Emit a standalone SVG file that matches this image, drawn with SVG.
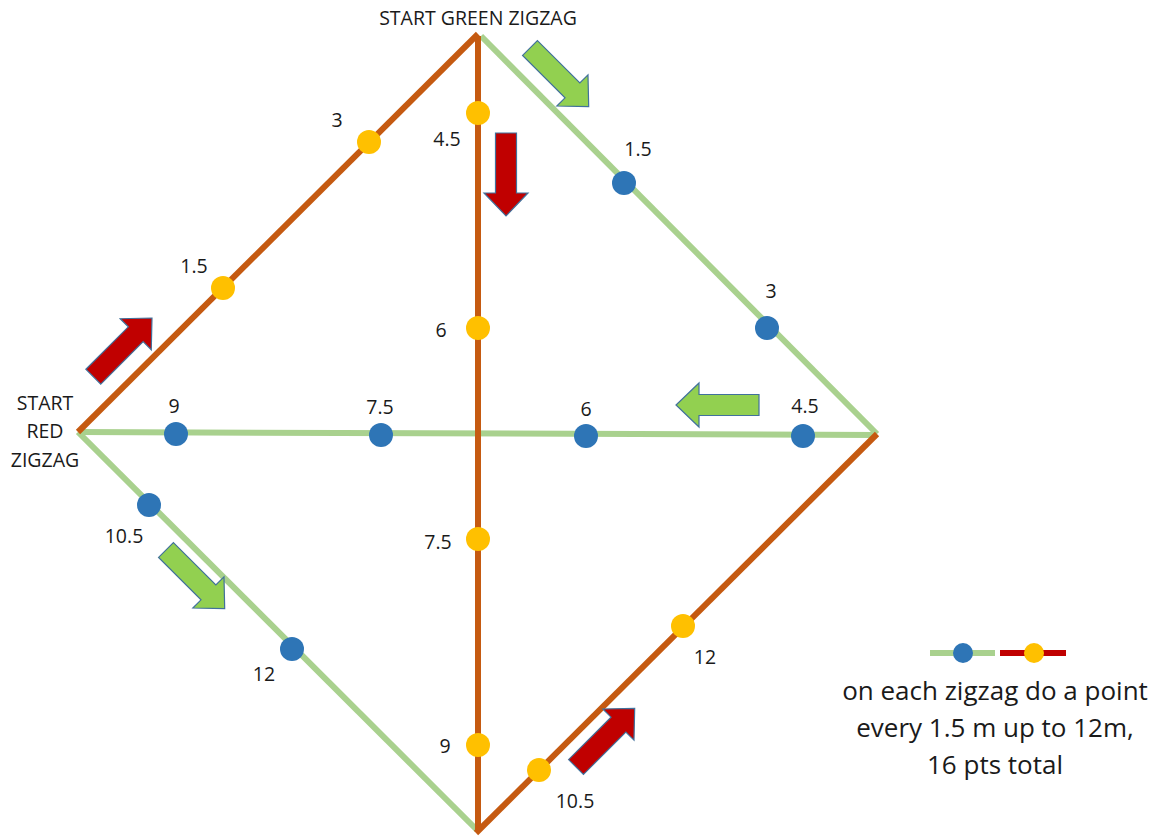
<svg xmlns="http://www.w3.org/2000/svg" width="1164" height="837" viewBox="0 0 1164 837">
<style>
.g{stroke:#A9D18E;stroke-width:6;fill:none;stroke-linecap:butt}
.o{stroke:#C55A11;stroke-width:6;fill:none;stroke-linejoin:miter}
.b{fill:#2E75B6}
.y{fill:#FFC000}
.t{font-family:"Open Sans","Liberation Sans",sans-serif;font-size:19.5px;fill:#1a1a1a;text-anchor:middle}
.lg{font-family:"Open Sans","Liberation Sans",sans-serif;font-size:26px;fill:#1a1a1a;text-anchor:middle}
.ar{stroke:#41719C;stroke-width:1.2}
.ag{fill:#92D050}
.aR{fill:#C00000}
</style>
<defs>
<path id="arw" d="M0,-10.5 L60,-10.5 L60,-22 L83,0 L60,22 L60,10.5 L0,10.5 Z"/>
</defs>
<g id="connectors">
<line class="g" x1="481" y1="36" x2="877" y2="434"/>
<line class="g" x1="78" y1="432" x2="877" y2="435"/>
<line class="g" x1="78" y1="432" x2="477" y2="830"/>
<line class="o" x1="478" y1="36" x2="478" y2="830"/>
<line class="o" x1="476" y1="833" x2="877" y2="434"/>
<line class="o" x1="78" y1="432" x2="478" y2="34"/>
</g>
<g id="arrows">
<use href="#arw" class="ar ag" transform="translate(530,48) rotate(45)"/>
<use href="#arw" class="ar aR" transform="translate(93.3,376.7) rotate(-45)"/>
<use href="#arw" class="ar ag" transform="translate(759,405) rotate(180)"/>
<use href="#arw" class="ar aR" transform="translate(506,133) rotate(90)"/>
<use href="#arw" class="ar ag" transform="translate(166,550) rotate(45)"/>
<use href="#arw" class="ar aR" transform="translate(576,767) rotate(-45)"/>
</g>
<g id="red-points">
<circle class="y" cx="369" cy="142" r="12"/>
<circle class="y" cx="223" cy="288" r="12"/>
<circle class="y" cx="478" cy="113" r="12"/>
<circle class="y" cx="478" cy="328" r="12"/>
<circle class="y" cx="478" cy="539" r="12"/>
<circle class="y" cx="478" cy="745" r="12"/>
<circle class="y" cx="539" cy="770" r="12"/>
<circle class="y" cx="683" cy="626" r="12"/>
</g>
<g id="green-points">
<circle class="b" cx="624" cy="183" r="12"/>
<circle class="b" cx="767" cy="328" r="12"/>
<circle class="b" cx="176" cy="434" r="12"/>
<circle class="b" cx="381" cy="435" r="12"/>
<circle class="b" cx="586" cy="436" r="12"/>
<circle class="b" cx="803" cy="436" r="12"/>
<circle class="b" cx="149" cy="505" r="12"/>
<circle class="b" cx="292" cy="649" r="12"/>
</g>
<g id="labels">
<text class="t" x="478" y="25">START GREEN ZIGZAG</text>
<text class="t" x="45" y="410">START</text>
<text class="t" x="45" y="438">RED</text>
<text class="t" x="45" y="467">ZIGZAG</text>
<text class="t" x="337" y="127">3</text>
<text class="t" x="194" y="273">1.5</text>
<text class="t" x="447" y="146">4.5</text>
<text class="t" x="441" y="337">6</text>
<text class="t" x="438" y="549">7.5</text>
<text class="t" x="445" y="753">9</text>
<text class="t" x="575" y="808">10.5</text>
<text class="t" x="705" y="664">12</text>
<text class="t" x="638" y="156">1.5</text>
<text class="t" x="771" y="298">3</text>
<text class="t" x="805" y="413">4.5</text>
<text class="t" x="586" y="416">6</text>
<text class="t" x="380" y="414">7.5</text>
<text class="t" x="174" y="413">9</text>
<text class="t" x="124" y="543">10.5</text>
<text class="t" x="264" y="681">12</text>
</g>
<g id="legend">
<line x1="930" y1="653" x2="995" y2="653" stroke="#A9D18E" stroke-width="6"/>
<circle class="b" cx="963" cy="653" r="10"/>
<line x1="1000" y1="653" x2="1066" y2="653" stroke="#C00000" stroke-width="6"/>
<circle class="y" cx="1034" cy="653" r="10"/>
<text class="lg" x="995" y="700">on each zigzag do a point</text>
<text class="lg" x="995" y="737">every 1.5 m up to 12m,</text>
<text class="lg" x="995" y="774">16 pts total</text>
</g>
</svg>
